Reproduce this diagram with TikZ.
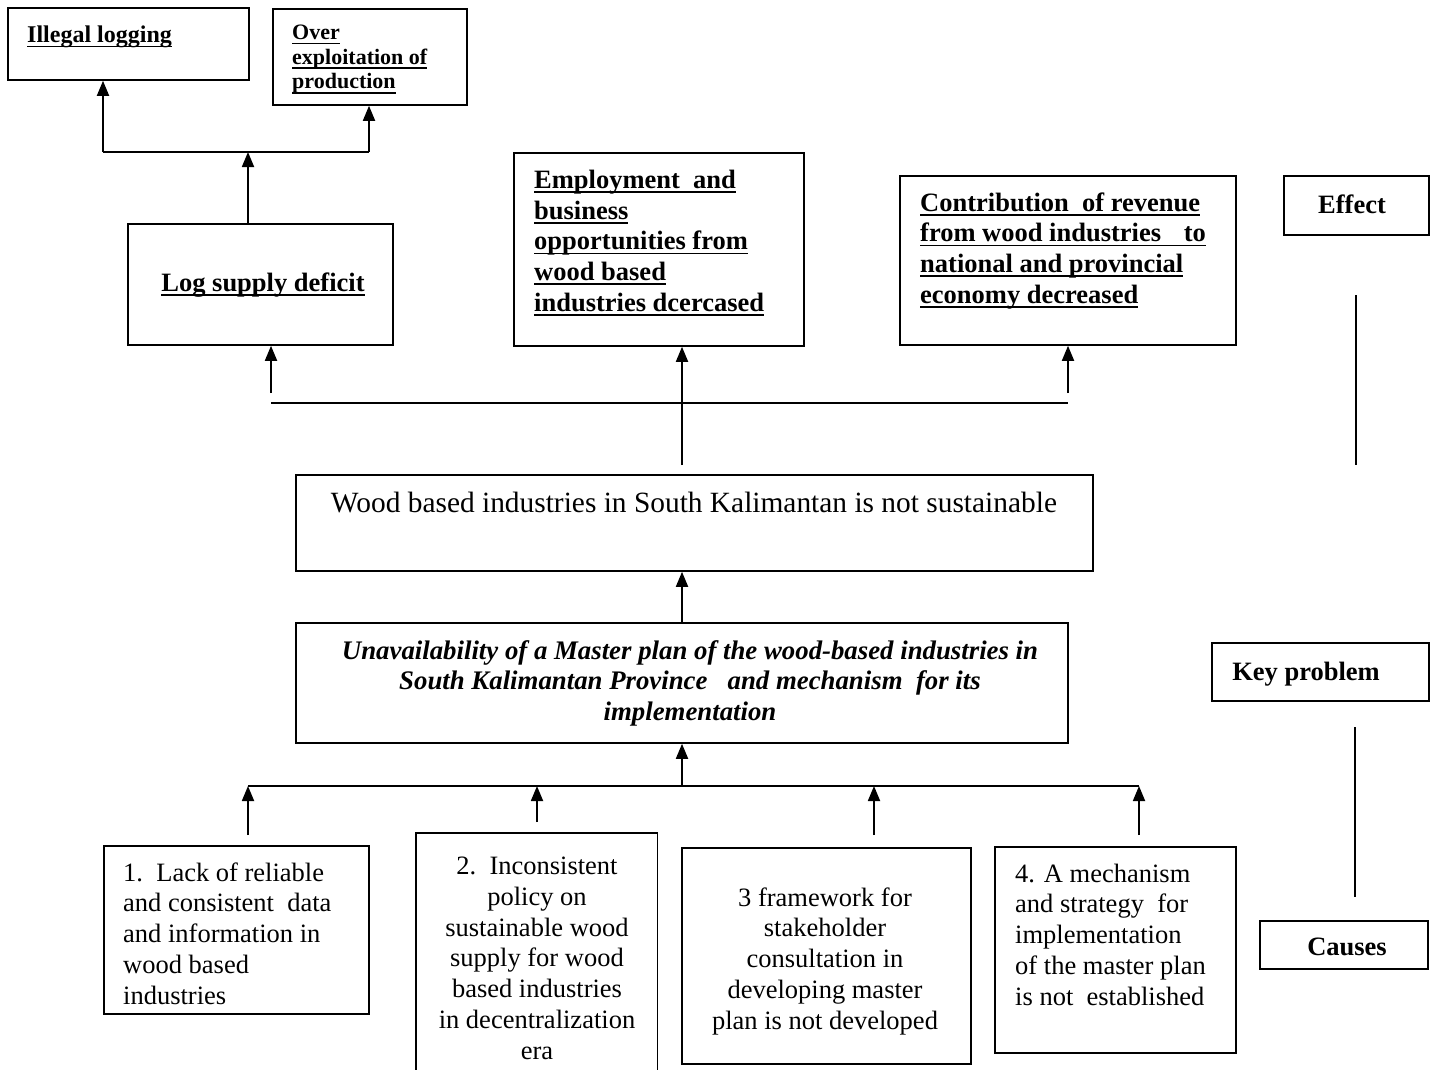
\documentclass[tikz,border=0pt]{standalone}
\usepackage{fontspec}
\setmainfont{Liberation Serif}
\usetikzlibrary{arrows.meta}
\newcommand\ulx[1]{\setbox0\hbox{#1}\rlap{\rule[-4.5pt]{\wd0}{1.8pt}}\box0}
\begin{document}
\begin{tikzpicture}[x=1pt,y=-1pt,
  box/.style={draw, line width=1.8pt, inner sep=0pt, anchor=north west},
  bt/.style={font=\fontsize{26.5}{30.6}\selectfont\bfseries, inner sep=0pt, align=left},
  st/.style={font=\fontsize{22}{24.5}\selectfont\bfseries, inner sep=0pt, align=left},
  rt/.style={font=\fontsize{26.5}{30.7}\selectfont, inner sep=0pt},
  arr/.style={line width=1.8pt, -{Triangle[length=15pt,width=12pt]}},
  ln/.style={line width=1.8pt}]
\useasboundingbox[fill=white] (0,0) rectangle (1437,1070);

% ---- boxes ----
\node[box, minimum width=241pt, minimum height=72pt] (ill) at (7,7) {};
\node[box, minimum width=194pt, minimum height=96pt] (over) at (272,8) {};
\node[box, minimum width=265pt, minimum height=121pt] (log) at (127,223) {};
\node[box, minimum width=290pt, minimum height=193pt] (emp) at (513,152) {};
\node[box, minimum width=336pt, minimum height=169pt] (con) at (899,175) {};
\node[box, minimum width=145pt, minimum height=59pt] (eff) at (1283,175) {};
\node[box, minimum width=797pt, minimum height=96pt] (wood) at (295,474) {};
\node[box, minimum width=772pt, minimum height=120pt] (un) at (295,622) {};
\node[box, minimum width=217pt, minimum height=58pt] (key) at (1211,642) {};
\node[box, minimum width=168pt, minimum height=48pt] (cau) at (1259,920) {};
\node[box, minimum width=265pt, minimum height=168pt] (c1) at (103,845) {};
\node[inner sep=0pt, anchor=north west, minimum width=241pt, minimum height=245pt] (c2) at (416,833) {};
\draw[ln] (c2.south west) -- (c2.north west) -- (c2.north east) -- (c2.south east);
\node[box, minimum width=289pt, minimum height=216pt] (c3) at (681,847) {};
\node[box, minimum width=241pt, minimum height=206pt] (c4) at (994,846) {};

% ---- texts (multi-line nodes are anchored at their last baseline) ----
\node[st, font=\fontsize{24}{26}\selectfont\bfseries, anchor=base west] (illt) at (27,43) {\ulx{Illegal logging}};
\node[st, anchor=base west] (overt) at (292,89) {\ulx{Over}\\\ulx{exploitation of}\\\ulx{production}};
\node[bt, anchor=base] (logt) at (263,291) {\ulx{Log supply deficit}};
\node[bt, anchor=base west] (empt) at (534,311) {\ulx{Employment\ \ and}\\\ulx{business}\\\ulx{opportunities from}\\\ulx{wood based}\\\ulx{industries dcercased}};
\node[bt, anchor=base west] (cont) at (920,303) {\ulx{Contribution\ \ of revenue}\\\ulx{from wood industries\hspace{16pt} to}\\\ulx{national and provincial}\\\ulx{economy decreased}};
\node[bt, anchor=base] (efft) at (1352,213) {Effect};
\node[bt, anchor=base] (keyt) at (1306,680) {Key problem};
\node[bt, anchor=base] (caut) at (1347,955) {Causes};
\node[inner sep=0pt, font=\fontsize{29.4}{34}\selectfont, anchor=base] (woodt) at (694,512) {Wood based industries in South Kalimantan is not sustainable};
\node[inner sep=0pt, font=\fontsize{26.8}{30.5}\selectfont\bfseries\itshape, align=center, anchor=base] (unt) at (690,720) {Unavailability of a Master plan of the wood-based industries in\\South Kalimantan Province\ \ \ and mechanism\ \ for its\\implementation};
\node[rt, align=left, anchor=base west] (c1t) at (123,1004) {1.\ \ Lack of reliable\\and consistent\ \ data\\and information in\\wood based\\industries};
\node[rt, align=center, anchor=base] (c2t) at (537,1059) {2.\ \ Inconsistent\\policy on\\sustainable wood\\supply for wood\\based industries\\in decentralization\\era};
\node[rt, align=center, anchor=base] (c3t) at (825,1029) {3 framework for\\stakeholder\\consultation in\\developing master\\plan is not developed};
\node[rt, align=left, anchor=base west] (c4t) at (1015,1005) {4. A mechanism\\and strategy\ \ for\\implementation\\of the master plan\\is not\ \ established};

% ---- connector points ----
\coordinate (j0) at (248,152);
\coordinate (jl) at (103,152);
\coordinate (jr) at (369,152);
\coordinate (bl) at (271,403);
\coordinate (br) at (1068,403);
\coordinate (al) at (271,393);
\coordinate (ar) at (1068,393);
\coordinate (ac) at (682,465);
\coordinate (mx) at (682,600);
\coordinate (kl) at (248,786);
\coordinate (kr) at (1139,786);
\coordinate (kc) at (682,786);
\coordinate (s1) at (248,835);
\coordinate (s2) at (537,822);
\coordinate (s3) at (874,835);
\coordinate (s4) at (1139,835);
\coordinate (e1) at (1356,295);
\coordinate (e2) at (1356,465);
\coordinate (k1) at (1355,727);
\coordinate (k2) at (1355,897);

% ---- connectors ----
\draw[arr] (log.north -| j0) -- (j0);
\draw[ln] (jl) -- (jr);
\draw[arr] (jl) -- (ill.south -| jl);
\draw[arr] (jr) -- (over.south -| jr);
\draw[ln] (bl) -- (br);
\draw[arr] (al) -- (log.south -| al);
\draw[arr] (ar) -- (con.south -| ar);
\draw[arr] (ac) -- (emp.south -| ac);
\draw[arr] (un.north -| mx) -- (wood.south -| mx);
\draw[ln] (kl) -- (kr);
\draw[arr] (kc) -- (un.south -| kc);
\draw[arr] (s1) -- (kl);
\draw[arr] (s2) -- (s2 |- kl);
\draw[arr] (s3) -- (s3 |- kl);
\draw[arr] (s4) -- (kr);
\draw[ln] (e1) -- (e2);
\draw[ln] (k1) -- (k2);
\end{tikzpicture}
\end{document}
